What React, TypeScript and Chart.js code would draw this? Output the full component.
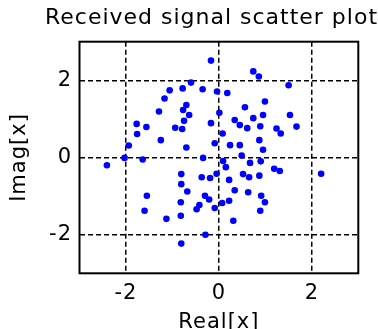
import React, { useEffect, useRef } from "react";
import { Chart, registerables } from "chart.js";

Chart.register(...registerables);

const realPart = [
  -0.17, 0.74, 0.86, 1.5, -0.6, -0.78, -1.06, -0.35, -0.04, 0.18,
  -1.17, -1.29, -0.7, -0.77, -0.64, -0.75, -0.94, -0.79, -1.77, -1.56,
  -1.76, -1.25, -1.94, -0.7, -0.17, -0.09, 0.01, 0.99, 0.56, 1.53,
  0.95, 0.74, 0.34, 0.45, 0.61, 0.89, 1.67, 1.24, 1.33, 0.08,
  0.87, 0.24, 0.45, 0.95, -2.03, -1.64, -2.41, -0.34, 0.49, 0.09,
  0.15, 0.67, 0.9, 1.19, 1.31, 2.2, -0.81, -0.37, -0.19, -0.05,
  0.22, 0.52, 0.65, 0.87, -0.81, -0.68, 0.34, 0.63, 0.91, -0.3,
  -0.21, 0.22, 0.07, -0.09, -0.42, -0.48, -0.82, 0.99, 0.89, -1.55,
  -1.6, -1.13, -0.82, 0.31, -0.29, -0.81,
];

const imagPart = [
  2.51, 2.23, 2.1, 1.87, 1.94, 1.79, 1.74, 1.77, 1.71, 1.67,
  1.53, 1.19, 1.36, 1.23, 1.1, 0.95, 0.77, 0.74, 0.87, 0.79,
  0.61, 0.45, 0.31, 0.26, 0.89, 0.37, 1.16, 1.45, 1.3, 1.1,
  1.1, 1.02, 0.97, 0.84, 0.76, 0.81, 0.8, 0.75, 0.62, 0.62,
  0.45, 0.32, 0.32, 0.2, -0.01, -0.05, -0.2, -0.01, 0.05, -0.09,
  -0.25, -0.14, -0.1, -0.29, -0.35, -0.42, -0.43, -0.51, -0.53, -0.42,
  -0.58, -0.43, -0.51, -0.47, -0.69, -0.88, -0.85, -0.9, -0.99, -0.99,
  -1.09, -1.12, -1.18, -1.31, -1.23, -1.34, -1.16, -1.16, -1.38, -0.99,
  -1.38, -1.59, -1.51, -1.64, -2.0, -2.23,
];

const xTickValues = [-2, 0, 2];
const yTickValues = [-2, 0, 2];
const axisMin = -3;
const axisMax = 3;

const titleText = "Received signal scatter plot";
const xTitleText = "Real[x]";
const yTitleText = "Imag[x]";

const FONT = "'DejaVu Sans', sans-serif";

const plotBox = {
  id: "plotBox",
  beforeDraw(chart: any) {
    (chart.ctx as any).letterSpacing = "1px";
  },
  beforeDatasetsDraw(chart: any) {
    const { ctx, chartArea: a } = chart;
    ctx.save();
    ctx.strokeStyle = "#000";
    ctx.lineWidth = 2;
    ctx.strokeRect(a.left, a.top, a.right - a.left, a.bottom - a.top);
    ctx.restore();
  },
  afterDraw(chart: any) {
    (chart.ctx as any).letterSpacing = "0px";
  },
};

export default function App() {
  const ref = useRef<HTMLCanvasElement>(null);

  useEffect(() => {
    document.body.style.margin = "0";
    const canvas = ref.current;
    if (!canvas) return;
    const points = realPart.map((x, i) => ({ x, y: imagPart[i] }));

    const chart = new Chart(canvas, {
      type: "scatter",
      data: {
        datasets: [
          {
            data: points,
            pointStyle: "circle",
            pointRadius: 3.3,
            pointHoverRadius: 3.3,
            backgroundColor: "#0000FF",
            borderWidth: 0,
          },
        ],
      },
      options: {
        animation: false,
        responsive: false,
        devicePixelRatio: 1,
        events: [],
        layout: { padding: { left: 45, right: 0, top: 0, bottom: 0 } },
        plugins: {
          legend: { display: false },
          tooltip: { enabled: false },
          title: {
            display: true,
            text: titleText,
            color: "#000",
            font: { family: FONT, size: 22, weight: "normal", lineHeight: 1.2 },
            padding: { top: 4.8, bottom: 10.5 },
          },
        },
        scales: {
          x: {
            type: "linear",
            min: axisMin,
            max: axisMax,
            afterBuildTicks: (s: any) => {
              s.ticks = xTickValues.map((v) => ({ value: v }));
            },
            afterFit: (s: any) => {
              s.height = 55.7;
            },
            grid: { color: "#000", lineWidth: 1.5, drawTicks: false },
            border: { display: false, dash: [5, 3] },
            ticks: {
              color: "#000",
              padding: 8,
              font: { family: FONT, size: 21, lineHeight: 1.2 },
            },
            title: {
              display: true,
              text: xTitleText,
              color: "#000",
              font: { family: FONT, size: 21, lineHeight: 1.2 },
              padding: { top: 0, bottom: -6.3 },
            },
          },
          y: {
            type: "linear",
            position: "left",
            min: axisMin,
            max: axisMax,
            afterBuildTicks: (s: any) => {
              s.ticks = yTickValues.map((v) => ({ value: v }));
            },
            afterFit: (s: any) => {
              s.width = 34.5;
            },
            grid: { color: "#000", lineWidth: 1.5, drawTicks: false },
            border: { display: false, dash: [5, 3] },
            ticks: {
              color: "#000",
              padding: 7.5,
              font: { family: FONT, size: 21, lineHeight: 1.2 },
            },
            title: {
              display: true,
              text: yTitleText,
              color: "#000",
              font: { family: FONT, size: 21, lineHeight: 1.2 },
              padding: { top: -37.7, bottom: 0 },
            },
          },
          yRight: {
            type: "linear",
            position: "right",
            min: axisMin,
            max: axisMax,
            afterFit: (s: any) => {
              s.width = 19.7;
            },
            grid: { display: false, drawTicks: false },
            border: { display: false },
            ticks: { display: false },
          },
        },
      },
      plugins: [plotBox],
    } as any);

    return () => chart.destroy();
  }, []);

  return <canvas ref={ref} width={378} height={329} style={{ display: "block" }} />;
}
